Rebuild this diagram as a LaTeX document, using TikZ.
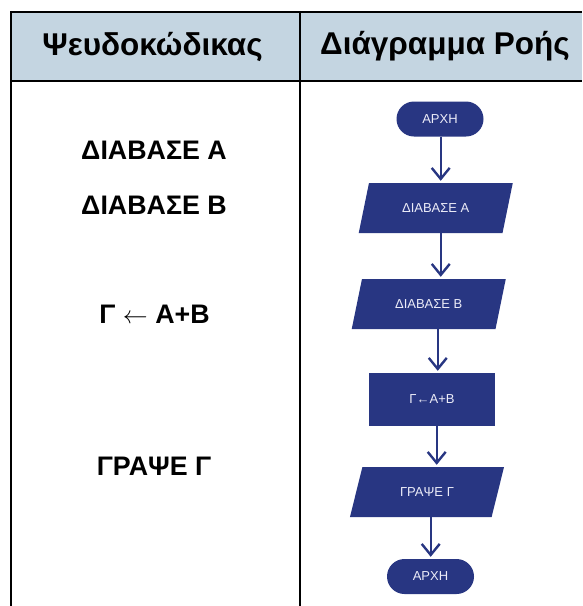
\documentclass[tikz,border=0pt]{standalone}
\usepackage{fontspec}
\setmainfont{Liberation Sans}
\usetikzlibrary{shapes.geometric,arrows.meta}
\definecolor{headblue}{RGB}{196,213,225}
\definecolor{navy}{RGB}{40,54,130}
\definecolor{palewhite}{RGB}{236,236,248}
\tikzset{
  tableline/.style={line width=2.4pt,black},
  headtext/.style={font=\bfseries\fontsize{31.5}{34}\selectfont,anchor=base},
  codetext/.style={font=\bfseries\fontsize{26.8}{29}\selectfont,anchor=base},
  terminal/.style={fill=navy,text=palewhite,rounded corners=17.5pt,minimum width=87pt,minimum height=35pt,inner sep=0pt,font=\fontsize{13}{15}\selectfont},
  iobox/.style={trapezium,trapezium left angle=60,trapezium right angle=120,trapezium stretches=true,fill=navy,text=palewhite,minimum width=155pt,minimum height=50pt,inner sep=0pt,font=\fontsize{13}{15}\selectfont},
  procbox/.style={fill=navy,text=palewhite,minimum width=126pt,minimum height=53pt,inner sep=0pt,font=\fontsize{13}{15}\selectfont},
  flowarrow/.style={-{Straight Barb[length=11pt,width=18pt]},navy,line width=2.4pt,shorten >=2pt}
}
\begin{document}
\begin{tikzpicture}[x=1pt,y=-1pt]
  \useasboundingbox (0,0) rectangle (582,606);
  % table
  \fill[headblue] (11,12) rectangle (582,81);
  \draw[tableline] (11,12) -- (582,12);
  \draw[tableline] (11,81) -- (582,81);
  \draw[tableline] (11,10.8) -- (11,606);
  \draw[tableline] (300,10.8) -- (300,606);
  \node[headtext] (pseudohead) at (152.5,55) {Ψευδοκώδικας};
  \node[headtext] (flowhead) at (445,54) {Διάγραμμα Ροής};
  % pseudocode
  \node[codetext] (lineA) at (154,159) {ΔΙΑΒΑΣΕ Α};
  \node[codetext] (lineB) at (154,214) {ΔΙΑΒΑΣΕ Β};
  \node[codetext] (lineC) at (154.5,323) {Γ \(\leftarrow\) Α+Β};
  \node[codetext] (lineD) at (154,475) {ΓΡΑΨΕ Γ};
  % flowchart
  \node[terminal] (start) at (440,119) {ΑΡΧΗ};
  \node[iobox] (readA) at (435.75,208) {ΔΙΑΒΑΣΕ Α};
  \node[iobox] (readB) at (428.75,304) {ΔΙΑΒΑΣΕ Β};
  \node[procbox] (calc) at (432,399.5) {Γ←Α+Β};
  \node[iobox] (write) at (427,492) {ΓΡΑΨΕ Γ};
  \node[terminal] (stop) at (430.5,576.5) {ΑΡΧΗ};
  \draw[flowarrow] ([xshift=0.7pt]start.south) -- ([xshift=0.7pt]start.south |- readA.north);
  \draw[flowarrow] ([xshift=5pt]readA.south) -- ([xshift=5pt]readA.south |- readB.north);
  \draw[flowarrow] ([xshift=9pt]readB.south) -- ([xshift=9pt]readB.south |- calc.north);
  \draw[flowarrow] ([xshift=4.7pt]calc.south) -- ([xshift=4.7pt]calc.south |- write.north);
  \draw[flowarrow] ([xshift=3.7pt]write.south) -- ([xshift=3.7pt]write.south |- stop.north);
\end{tikzpicture}
\end{document}
